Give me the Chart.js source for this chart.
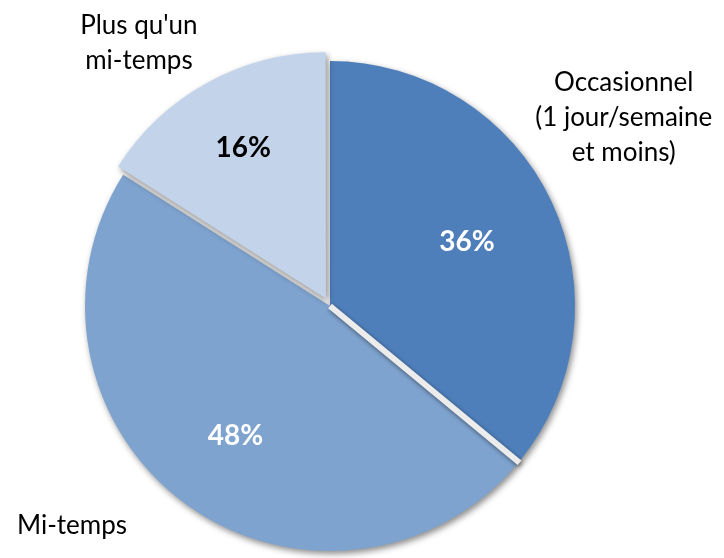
<!DOCTYPE html>
<html>
<head>
<meta charset="utf-8">
<script src="https://cdn.jsdelivr.net/npm/chart.js@4/dist/chart.umd.min.js"></script>
<style>
html,body{margin:0;padding:0;background:#fff;}
#wrap{width:724px;height:558px;position:relative;}
</style>
</head>
<body>
<div id="wrap"><canvas id="c" width="724" height="558"></canvas></div>
<script>
const categories = [["Occasionnel", "(1 jour/semaine", "et moins)"], ["Mi-temps"], ["Plus qu'un", "mi-temps"]];
const values = [36, 48, 16];
const percentLabels = ["36%", "48%", "16%"];
const sliceColors = ["#4F7FBB", "#7EA3CF", "#C3D4EA"];
const percentColors = ["#ffffff", "#ffffff", "#000000"];
const sliceOffsets = [0, 0, 34];

const FONT = "Lato, 'Open Sans', sans-serif";

function setShadow(ctx) {
  ctx.shadowColor = 'rgba(0,0,0,0.45)';
  ctx.shadowBlur = 6;
  ctx.shadowOffsetX = 2;
  ctx.shadowOffsetY = 3;
}

const shadowPlugin = {
  id: 'shadow',
  beforeDatasetDraw(chart) {
    const ctx = chart.ctx;
    ctx.save();
    setShadow(ctx);
  },
  afterDatasetDraw(chart) {
    const ctx = chart.ctx;
    ctx.restore();
    // separator band between the first two (non-exploded) slices
    const meta = chart.getDatasetMeta(0);
    const a = meta.data[1].getProps(['x','y','startAngle','outerRadius'], true);
    ctx.save();
    setShadow(ctx);
    ctx.shadowBlur = 4;
    ctx.shadowOffsetX = 1;
    ctx.shadowOffsetY = 2;
    ctx.strokeStyle = '#ececec';
    ctx.lineWidth = 6;
    ctx.lineCap = 'butt';
    ctx.beginPath();
    ctx.moveTo(a.x, a.y);
    ctx.lineTo(a.x + Math.cos(a.startAngle) * (a.outerRadius + 1), a.y + Math.sin(a.startAngle) * (a.outerRadius + 1));
    ctx.stroke();
    ctx.restore();
  }
};

// percentage label distance from centre (fraction of radius)
const pctRadius = [0.618, 0.657, 0.70];
// category label block centre relative to pie centre (fractions of radius)
const outerPlace = [[1.199, -0.768], [-1.053, 0.898], [-0.780, -1.071]];

const labelPlugin = {
  id: 'labels',
  afterDraw(chart) {
    const ctx = chart.ctx;
    const meta = chart.getDatasetMeta(0);
    ctx.save();
    ctx.textAlign = 'center';
    ctx.textBaseline = 'middle';
    meta.data.forEach((arc, i) => {
      const p = arc.getProps(['x','y','startAngle','endAngle','outerRadius'], true);
      const mid = (p.startAngle + p.endAngle) / 2;
      const off = (sliceOffsets[i] || 0) / 4;
      const cx = p.x + Math.cos(mid) * off, cy = p.y + Math.sin(mid) * off;
      const r1 = p.outerRadius * pctRadius[i];
      ctx.font = "bold 28px " + FONT;
      ctx.fillStyle = percentColors[i];
      ctx.fillText(percentLabels[i], cx + Math.cos(mid) * r1, cy + Math.sin(mid) * r1);
      const lx = p.x + outerPlace[i][0] * p.outerRadius;
      const ly = p.y + outerPlace[i][1] * p.outerRadius;
      const lines = categories[i];
      const lh = 35;
      ctx.font = "26px " + FONT;
      ctx.fillStyle = "#000000";
      lines.forEach((t, k) => {
        ctx.fillText(t, lx, ly + (k - (lines.length - 1) / 2) * lh);
      });
    });
    ctx.restore();
  }
};

new Chart(document.getElementById('c'), {
  type: 'pie',
  data: {
    labels: categories.map(c => c.join(' ')),
    datasets: [{
      data: values,
      backgroundColor: sliceColors,
      borderWidth: 0,
      offset: sliceOffsets,
      hoverOffset: 0
    }]
  },
  options: {
    responsive: false,
    animation: false,
    events: [],
    radius: 245,
    layout: { padding: { left: 85, right: 149, top: 61, bottom: 7 } },
    plugins: { legend: { display: false }, tooltip: { enabled: false } }
  },
  plugins: [shadowPlugin, labelPlugin]
});
</script>
</body>
</html>
